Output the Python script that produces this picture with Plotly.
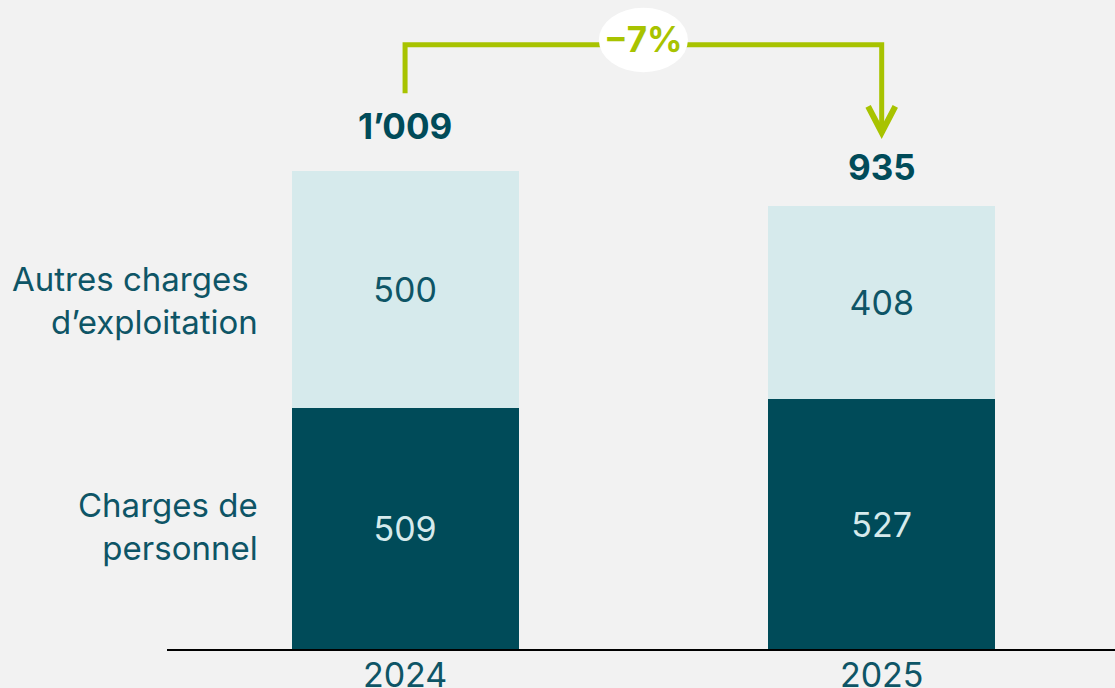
import plotly.graph_objects as go

# ---- data ----
years = ["2024", "2025"]
personnel = [509, 527]
autres = [500, 408]
totals = [1009, 935]
total_labels = ["1’009", "935"]
change_label = "−7%"
series_labels = ["Charges de<br>personnel", "Autres charges\u00a0<br>d’exploitation"]

# ---- style ----
BG = "#f2f2f2"
DARK = "#004b59"
LIGHT = "#d6eaec"
TEXT = "#0e5566"
GREEN = "#a8c300"
FONT = "Inter"
BAR_W = 0.476

x = list(range(len(years)))

fig = go.Figure()
fig.add_trace(go.Bar(
    x=x, y=personnel, width=BAR_W, marker=dict(color=DARK, line=dict(width=0)),
    text=[str(v) for v in personnel], textposition="inside", insidetextanchor="middle",
    textfont=dict(family=FONT, size=34, color="#d6eaec"), textangle=0,
    constraintext="none", hoverinfo="skip", showlegend=False,
))
fig.add_trace(go.Bar(
    x=x, y=autres, width=BAR_W, marker=dict(color=LIGHT, line=dict(width=0)),
    text=[str(v) for v in autres], textposition="inside", insidetextanchor="middle",
    textfont=dict(family=FONT, size=34, color=TEXT), textangle=0,
    constraintext="none", hoverinfo="skip", showlegend=False,
))

annotations = []
# totals above bars
total_shift = [22, 16]
for i, (t, lab) in enumerate(zip(totals, total_labels)):
    annotations.append(dict(
        x=i, y=t, xref="x", yref="y", text=f"<b>{lab}</b>", showarrow=False,
        yanchor="bottom", yshift=total_shift[i],
        font=dict(family=FONT, size=35, color=DARK),
    ))

# series labels on the left
seg_mid_personnel = sum(p / 2 for p in personnel) / len(personnel)
seg_mid_autres = sum(p + a / 2 for p, a in zip(personnel, autres)) / len(autres)
for lab, ym, ys in zip(series_labels, [seg_mid_personnel, seg_mid_autres], [0, -5]):
    annotations.append(dict(
        x=0.098, xref="paper", y=ym, yref="y", text=lab, showarrow=False,
        xanchor="right", align="right", yanchor="middle", yshift=ys,
        font=dict(family=FONT, size=33, color=TEXT),
    ))

# bracket + arrow (data coords derived from totals)
top_y = max(totals) + 266
left_bottom = totals[0] + 164
tip_y = totals[1] + 155
head_h = 55
head_w = 0.0285
shapes = [
    dict(type="path", xref="x", yref="y",
         path=f"M 0,{left_bottom} L 0,{top_y} L 1,{top_y} L 1,{tip_y + 4}",
         line=dict(color=GREEN, width=5), layer="above"),
    dict(type="path", xref="x", yref="y",
         path=f"M {1 - head_w},{tip_y + head_h} L 1,{tip_y} L {1 + head_w},{tip_y + head_h}",
         line=dict(color=GREEN, width=6), layer="above"),
    dict(type="circle", xref="x", yref="y",
         x0=0.5 - 0.0935, x1=0.5 + 0.0935,
         y0=top_y + 10 - 68, y1=top_y + 10 + 68,
         fillcolor="white", line=dict(width=0), layer="above"),
]
annotations.append(dict(
    x=0.5, y=top_y + 10, xref="x", yref="y", text=f"<b>{change_label}</b>",
    showarrow=False, yanchor="middle", yshift=1,
    font=dict(family=FONT, size=35, color=GREEN),
))

fig.update_layout(
    barmode="stack",
    width=1115, height=688,
    margin=dict(l=167, r=0, t=0, b=39, pad=0),
    paper_bgcolor=BG, plot_bgcolor=BG,
    template="none",
    annotations=annotations, shapes=shapes,
    xaxis=dict(range=[-0.4995, 1.4895], tickvals=x, ticktext=years,
               showline=True, linecolor="black", linewidth=2, showgrid=False,
               zeroline=False, ticks="", automargin=False, ticklabelstandoff=-5,
               tickfont=dict(family=FONT, size=34, color=TEXT)),
    yaxis=dict(range=[0, 1369.6], visible=False, showgrid=False, zeroline=False,
               automargin=False),
    font=dict(family=FONT),
)

fig.write_html(
    "out.html",
    config={"displayModeBar": False},
    post_script="document.body.style.margin='0';document.body.style.overflow='hidden';",
)
